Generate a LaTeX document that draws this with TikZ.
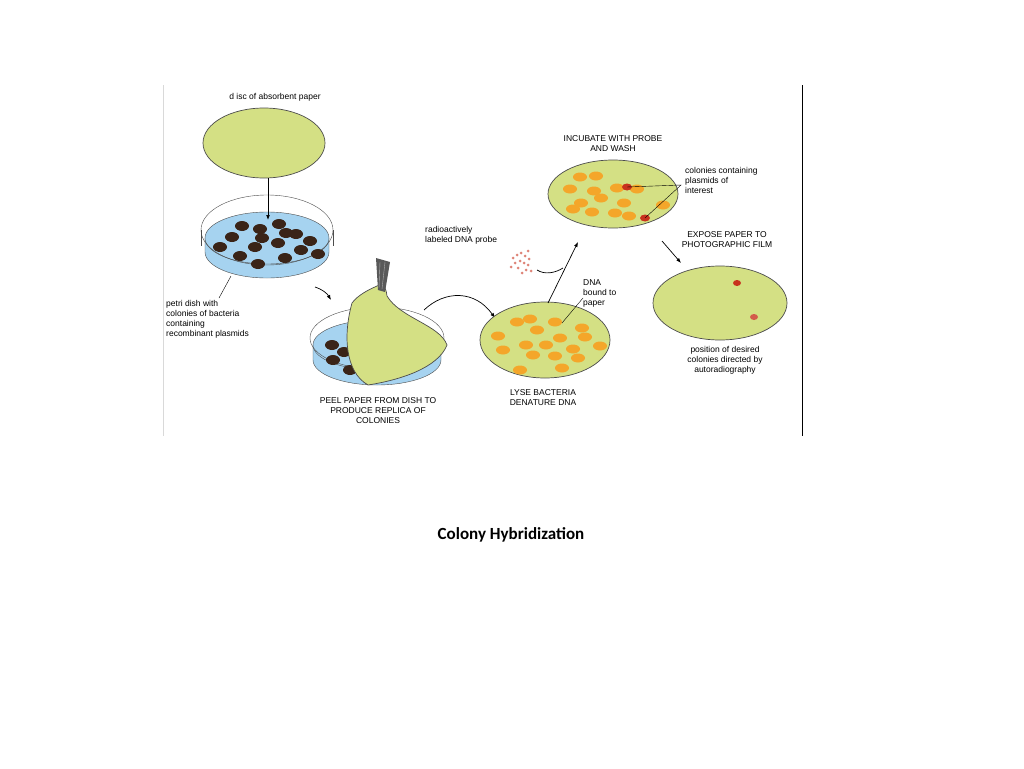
\documentclass[tikz,border=0pt]{standalone}
\usepackage{fontspec}
\setmainfont{Liberation Sans}
\newfontfamily\titlefont{Carlito}
\usetikzlibrary{arrows.meta}
\definecolor{paper}{RGB}{212,224,132}
\definecolor{agar}{RGB}{166,211,240}
\definecolor{colony}{RGB}{58,36,24}
\definecolor{dnaspot}{RGB}{244,166,42}
\definecolor{hot}{RGB}{200,50,30}
\tikzset{
  lbl/.style={font=\fontsize{8.5}{10}\selectfont, align=left, anchor=north west, inner sep=0pt},
  steplbl/.style={font=\fontsize{8.5}{10}\selectfont, align=center, anchor=north, inner sep=0pt},
  disc/.style={draw=black!70, fill=paper, line width=0.7pt},
  step arrow/.style={-{Latex[length=5pt]}, line width=0.7pt},
}
\begin{document}
\begin{tikzpicture}[x=1pt,y=-1pt]
\useasboundingbox (0,0) rectangle (1024,768);
% frame
\draw[black!15] (163,85) -- (163,436);
\draw[line width=0.8pt] (802,85) -- (802,436);

% disc of paper
\node[lbl, anchor=north] (disclbl) at (275,93) {d isc of absorbent paper};
\draw[disc] (264,143) ellipse (61 and 35);

% petri dish 1
\draw[black!70, fill=agar] (205,238) -- (205,252) arc[start angle=180, end angle=0, x radius=62, y radius=26] -- (329,238) -- cycle;
\draw[black!70, fill=agar] (267,238) ellipse (62 and 26);
\draw[black!70] (267,230) ellipse (66 and 35);
\draw[black!70] (201,230) -- (201,246);
\draw[black!70] (333,230) -- (333,246);
\foreach \x/\y in {242/226, 260/229, 279/224, 296/234, 232/237, 262/238, 286/233, 310/241, 220/247, 255/247, 278/243, 301/250, 318/254, 240/256, 285/258, 258/264}
  \fill[colony] (\x,\y) ellipse (7 and 5);
\coordinate (discbot) at (268,178);
\coordinate (dishtop) at (268,220);
\draw[step arrow] (discbot) -- (dishtop);
\node[lbl] (petrilbl) at (166,300) {petri dish with\\colonies of bacteria\\containing\\recombinant plasmids};
\coordinate (petriptr) at (231,276);
\draw (petriptr) -- (219,298);
\draw[step arrow] (315,287) to[bend left=20] (331,300);

% petri dish 2 with peeled paper
\draw[black!70, fill=agar] (313,345) -- (313,360) arc[start angle=180, end angle=0, x radius=64, y radius=25] -- (441,345) -- cycle;
\draw[black!70, fill=agar] (377,345) ellipse (64 and 25);
\draw[black!70] (377,338) ellipse (67 and 31);
\foreach \x/\y in {332/345, 333/360, 350/370, 344/352}
  \fill[colony] (\x,\y) ellipse (7 and 5);
\draw[black!70, fill=paper, line width=0.7pt] (352,303)
  .. controls (343,335) and (345,372) .. (368,385)
  .. controls (400,380) and (438,368) .. (447,345)
  .. controls (440,325) and (400,318) .. (387,296)
  .. controls (386,286) and (382,283) .. (377,286)
  .. controls (368,290) and (358,295) .. (352,303) -- cycle;
\fill[black!65] (376,258) -- (390,262) -- (385,292) -- (378,290) -- cycle;
\draw[white!70!black] (380,262) -- (379,288) (385,262) -- (382,289);
\node[steplbl] (peellbl) at (378,397) {PEEL PAPER FROM DISH TO\\PRODUCE REPLICA OF\\COLONIES};
\draw[step arrow] (424,310) .. controls (445,290) and (475,290) .. (495,318);

% lysed replica
\draw[disc] (545,340) ellipse (65 and 38);
\foreach \x/\y in {517/322, 530/319, 555/322, 582/328, 498/336, 537/330, 560/338, 585/337, 600/346, 503/350, 526/345, 546/345, 573/349, 533/355, 555/356, 578/358, 520/370, 562/368}
  \fill[dnaspot] (\x,\y) ellipse (7 and 4.5);
\node[steplbl] (lyselbl) at (543,389) {LYSE BACTERIA\\DENATURE DNA};
\node[lbl] (dnalbl) at (583,279) {DNA\\bound to\\paper};
\coordinate (dnaptr) at (562,323);
\draw (dnaptr) -- (583,298);

% probe
\node[lbl] (probelbl) at (425,226) {radioactively\\labeled DNA probe};
\foreach \x/\y in {513/258, 517/255, 521/253, 525/256, 529/259, 515/263, 520/261, 524/263, 528/265, 511/267, 518/268, 526/270, 531/271, 522/273, 528/251}
  \fill[hot!60] (\x,\y) circle (1.5);
\coordinate (lyseout) at (548,303);
\coordinate (incubin) at (578,242);
\draw[step arrow] (lyseout) -- (incubin);
\draw[line width=0.7pt] (537,270) .. controls (545,275) and (555,273) .. (563,268);

% incubated replica
\node[steplbl] (incublbl) at (613,135) {INCUBATE WITH PROBE\\AND WASH};
\draw[disc] (613,194) ellipse (65 and 34);
\foreach \x/\y in {580/177, 596/176, 570/189, 594/191, 617/188, 637/189, 581/203, 601/198, 624/203, 592/212, 615/213, 573/209, 629/216, 663/205}
  \fill[dnaspot] (\x,\y) ellipse (7 and 4.5);
\fill[hot] (627,187) ellipse (5 and 3.5);
\fill[hot] (645,218) ellipse (5 and 3.5);
\node[lbl] (colonylbl) at (685,167) {colonies containing\\plasmids of\\interest};
\coordinate (colonyptr) at (681,185);
\draw (627,187) -- (colonyptr) -- (645,218);

% exposure
\draw[step arrow] (662,241) -- (681,263);
\node[steplbl] (exposelbl) at (727,231) {EXPOSE PAPER TO\\PHOTOGRAPHIC FILM};
\draw[disc] (720,303) ellipse (67 and 37);
\fill[hot] (737,283) ellipse (4 and 3);
\fill[hot!80] (754,317) ellipse (4 and 3);
\node[steplbl] (filmlbl) at (725,346) {position of desired\\colonies directed by\\autoradiography};

% title
\node[font=\titlefont\bfseries\fontsize{17}{20}\selectfont] (title) at (511,535) {Colony Hybridization};
\end{tikzpicture}
\end{document}
